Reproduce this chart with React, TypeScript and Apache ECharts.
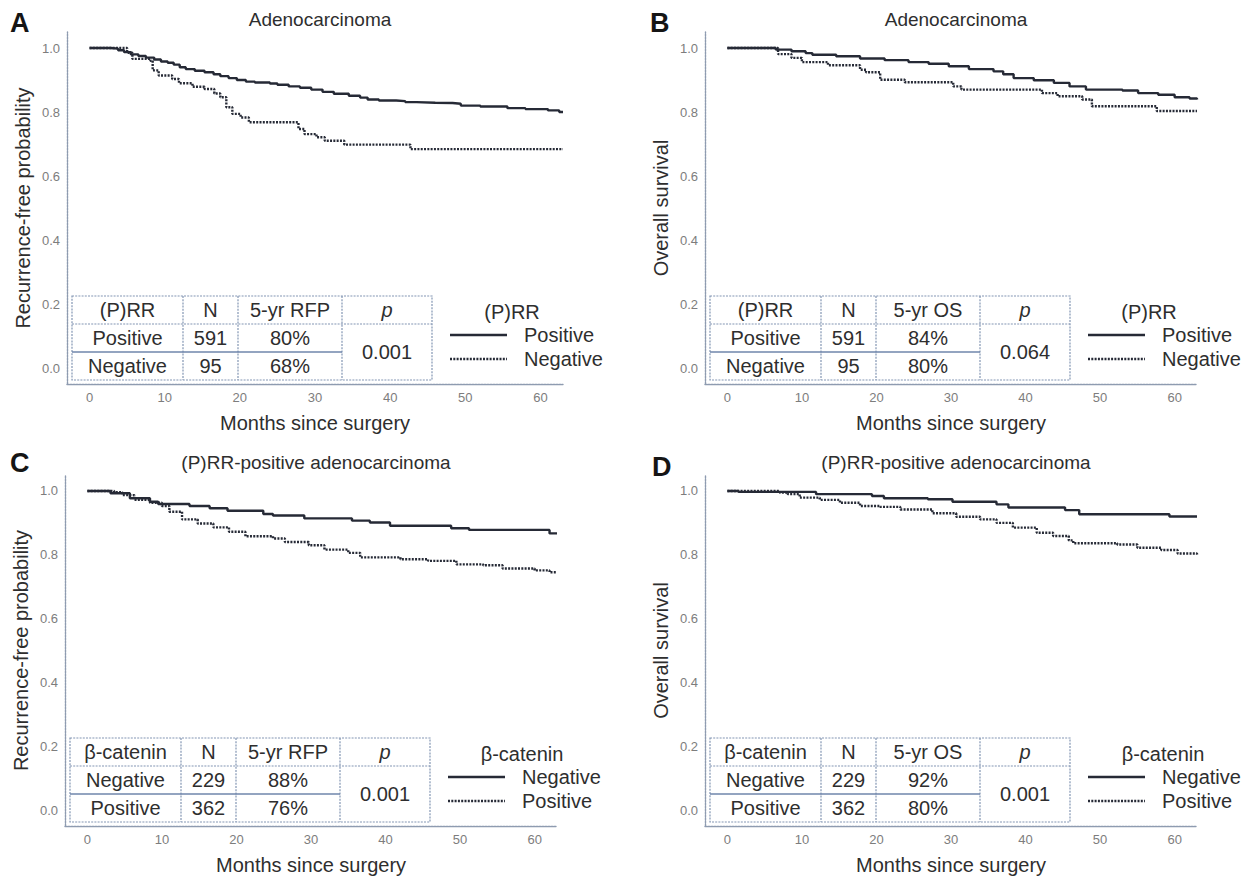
import React, { useEffect, useRef } from "react";
import * as echarts from "echarts";

// ---------- data ----------
const xTicks = [0, 10, 20, 30, 40, 50, 60];
const yTicks = [0, 0.2, 0.4, 0.6, 0.8, 1.0];

const panelLetters = ["A", "B", "C", "D"];
const panelTitles = ["Adenocarcinoma", "Adenocarcinoma", "(P)RR-positive adenocarcinoma", "(P)RR-positive adenocarcinoma"];
const yTitles = ["Recurrence-free probability", "Overall survival", "Recurrence-free probability", "Overall survival"];
const xTitle = "Months since surgery";

// Panel A: RFP by (P)RR
const aPosT = [0, 2.8, 3.8, 4.6, 5.5, 6.5, 7.5, 8.6, 9.5, 10.4, 11.2, 12.0, 12.8, 14.0, 15.3, 16.5, 17.4, 18.5, 19.6, 20.8, 22.0, 24.0, 25.0, 26.5, 28.0, 29.5, 31.0, 32.5, 34.5, 36.0, 37.0, 38.5, 40.8, 42.0, 43.5, 46.0, 48.3, 49.4, 52.0, 55.6, 58.0, 61.0, 62.5, 63];
const aPosS = [1.0, 0.998, 0.993, 0.987, 0.98, 0.975, 0.97, 0.964, 0.958, 0.954, 0.948, 0.94, 0.934, 0.929, 0.924, 0.918, 0.912, 0.906, 0.9, 0.895, 0.892, 0.889, 0.885, 0.88, 0.876, 0.87, 0.863, 0.857, 0.851, 0.845, 0.839, 0.836, 0.834, 0.831, 0.829, 0.828, 0.826, 0.82, 0.817, 0.812, 0.809, 0.805, 0.8, 0.8];
const aNegT = [0, 5.0, 5.7, 8.1, 8.4, 9.2, 11.0, 11.9, 13.7, 15.3, 16.6, 17.4, 18.2, 19.0, 20.1, 21.2, 27.8, 28.6, 30.2, 31.3, 33.9, 42.7, 63];
const aNegS = [1.0, 0.985, 0.966, 0.96, 0.93, 0.914, 0.903, 0.89, 0.879, 0.872, 0.858, 0.846, 0.815, 0.794, 0.783, 0.768, 0.747, 0.731, 0.721, 0.71, 0.698, 0.684, 0.684];

// Panel B: OS by (P)RR
const bPosT = [0, 6.5, 8.6, 10.5, 11.4, 14.6, 17.8, 21.1, 24.3, 27.0, 29.7, 32.4, 35.7, 37.0, 38.4, 41.1, 43.8, 45.9, 48.1, 53.0, 55.1, 57.8, 60.0, 62.0, 63];
const bPosS = [1.0, 0.995, 0.99, 0.984, 0.979, 0.974, 0.967, 0.962, 0.956, 0.951, 0.943, 0.934, 0.927, 0.918, 0.906, 0.899, 0.891, 0.88, 0.87, 0.867, 0.859, 0.854, 0.846, 0.842, 0.839];
const bNegT = [0, 6.8, 8.6, 10.0, 13.5, 17.8, 18.6, 20.5, 23.8, 30.3, 31.4, 42.2, 44.3, 47.6, 48.9, 57.6, 63];
const bNegS = [1.0, 0.981, 0.969, 0.956, 0.946, 0.932, 0.924, 0.901, 0.893, 0.88, 0.87, 0.859, 0.849, 0.839, 0.818, 0.803, 0.803];

// Panel C: RFP by beta-catenin
const cNegT = [0, 3.1, 5.7, 8.4, 9.5, 13.7, 16.4, 18.8, 23.6, 24.9, 29.1, 35.5, 37.9, 40.6, 48.8, 51.2, 62.0, 63];
const cNegS = [1.0, 0.993, 0.977, 0.966, 0.959, 0.953, 0.946, 0.938, 0.928, 0.923, 0.914, 0.907, 0.901, 0.891, 0.883, 0.878, 0.867, 0.867];
const cPosT = [0, 3.6, 4.7, 6.3, 8.4, 10.0, 11.0, 12.7, 14.8, 16.9, 19.0, 21.2, 24.9, 26.5, 29.7, 31.8, 35.0, 36.6, 42.0, 45.7, 49.5, 53.1, 55.7, 60.0, 62.0, 63];
const cPosS = [1.0, 0.996, 0.987, 0.972, 0.963, 0.953, 0.935, 0.911, 0.898, 0.886, 0.872, 0.858, 0.851, 0.84, 0.83, 0.816, 0.806, 0.792, 0.786, 0.781, 0.77, 0.767, 0.757, 0.751, 0.745, 0.745];

// Panel D: OS by beta-catenin
const dNegT = [0, 1.5, 11.9, 19.4, 21.0, 26.9, 30.2, 36.1, 37.7, 45.3, 47.2, 59.3, 63];
const dNegS = [1.0, 0.997, 0.99, 0.984, 0.977, 0.974, 0.966, 0.958, 0.948, 0.94, 0.927, 0.92, 0.92];
const dPosT = [0, 7.0, 8.1, 9.7, 12.4, 15.1, 17.8, 20.5, 23.2, 27.5, 30.7, 33.9, 36.1, 38.3, 41.5, 43.7, 45.8, 46.4, 52.3, 55.0, 58.2, 60.4, 63];
const dPosS = [1.0, 0.995, 0.99, 0.979, 0.972, 0.963, 0.953, 0.95, 0.942, 0.93, 0.919, 0.911, 0.9, 0.885, 0.869, 0.859, 0.845, 0.836, 0.832, 0.822, 0.815, 0.804, 0.796];

// tables
const tableHeaders = [
  ["(P)RR", "N", "5-yr RFP", "p"],
  ["(P)RR", "N", "5-yr OS", "p"],
  ["β-catenin", "N", "5-yr RFP", "p"],
  ["β-catenin", "N", "5-yr OS", "p"],
];
const tableGroups = [
  ["Positive", "Negative"],
  ["Positive", "Negative"],
  ["Negative", "Positive"],
  ["Negative", "Positive"],
];
const tableN = [
  ["591", "95"],
  ["591", "95"],
  ["229", "362"],
  ["229", "362"],
];
const tableRate = [
  ["80%", "68%"],
  ["84%", "80%"],
  ["88%", "76%"],
  ["92%", "80%"],
];
const tableP = ["0.001", "0.064", "0.001", "0.001"];
const legendTitles = ["(P)RR", "(P)RR", "β-catenin", "β-catenin"];

// ---------- layout ----------
const grids = [
  { left: 67, top: 32, width: 496, height: 352 },
  { left: 705, top: 32, width: 492, height: 352 },
  { left: 65, top: 475, width: 492, height: 351 },
  { left: 705, top: 475, width: 492, height: 351 },
];
const legendTitleOffset = [445, 444, 457, 458];
const letterPos = [
  [10, 9],
  [650, 9],
  [10, 449],
  [652, 453],
];

const FONT = '"Liberation Sans", Arial, sans-serif';
const TXT = "#2e2e2e";
const CURVE = "#262a36";
const BORDER = "#8396b3";
const DOTS = [2, 1.3];

const zip = (t: number[], s: number[]) => t.map((v, i) => [v, s[i]]);

const curves = [
  [zip(aPosT, aPosS), zip(aNegT, aNegS)],
  [zip(bPosT, bPosS), zip(bNegT, bNegS)],
  [zip(cNegT, cNegS), zip(cPosT, cPosS)],
  [zip(dNegT, dNegS), zip(dPosT, dPosS)],
];

function text(x: number, y: number, t: string, opts: any = {}) {
  return {
    type: "text",
    x,
    y,
    silent: true,
    style: {
      text: t,
      fill: opts.fill || TXT,
      font: opts.font || `20px ${FONT}`,
      textAlign: opts.align || "center",
      align: opts.align || "center",
      textVerticalAlign: "middle",
      verticalAlign: "middle",
    },
  };
}

function line(x1: number, y1: number, x2: number, y2: number, stroke: string, lw: number, dash: any) {
  return {
    type: "line",
    silent: true,
    shape: { x1, y1, x2, y2 },
    style: { stroke, lineWidth: lw, lineDash: dash },
  };
}

function panelGraphics(i: number) {
  const g = grids[i];
  const L = g.left;
  const B = g.top + g.height;
  const cx = [5, 116, 171, 275, 365].map((v) => L + v);
  const ry = [-88, -60, -32, -4].map((v) => B + v);
  const els: any[] = [];
  // panel letter
  els.push({
    type: "text",
    x: letterPos[i][0],
    y: letterPos[i][1],
    silent: true,
    style: { text: panelLetters[i], fill: "#151515", font: `bold 27px ${FONT}` },
  });
  // table frame
  const dot = [2, 1.2];
  els.push({
    type: "rect",
    silent: true,
    shape: { x: cx[0], y: ry[0], width: cx[4] - cx[0], height: ry[3] - ry[0] },
    style: { fill: "none", stroke: BORDER, lineWidth: 1.2, lineDash: dot },
  });
  for (let k = 1; k < 4; k++) els.push(line(cx[k], ry[0], cx[k], ry[3], BORDER, 1.2, dot));
  els.push(line(cx[0], ry[1], cx[4], ry[1], BORDER, 1.2, dot));
  els.push(line(cx[0], ry[2], cx[3], ry[2], "#6f86ab", 1.4, null));
  // header
  const hdr = tableHeaders[i];
  const mids = [0, 1, 2, 3].map((k) => (cx[k] + cx[k + 1]) / 2);
  for (let k = 0; k < 4; k++) {
    els.push(text(mids[k], (ry[0] + ry[1]) / 2, hdr[k], k === 3 ? { font: `italic 20px ${FONT}` } : {}));
  }
  for (let r = 0; r < 2; r++) {
    const yc = (ry[r + 1] + ry[r + 2]) / 2;
    els.push(text(mids[0], yc, tableGroups[i][r]));
    els.push(text(mids[1], yc, tableN[i][r]));
    els.push(text(mids[2], yc, tableRate[i][r]));
  }
  els.push(text(mids[3], (ry[1] + ry[3]) / 2, tableP[i]));
  // legend
  els.push(text(L + legendTitleOffset[i], B - 72, legendTitles[i]));
  els.push(line(L + 383, B - 49, L + 440, B - 49, CURVE, 2.4, null));
  els.push(line(L + 383, B - 25, L + 440, B - 25, CURVE, 2.4, DOTS));
  els.push(text(L + 457, B - 49, tableGroups[i][0], { align: "left" }));
  els.push(text(L + 457, B - 25, tableGroups[i][1], { align: "left" }));
  return els;
}

function buildOption() {
  const axisLineStyle = { color: "#8e9bb0", width: 1.4, type: [2, 1] };
  const xAxis = grids.map((_, i) => ({
    gridIndex: i,
    type: "value",
    min: -3,
    max: 63,
    axisLine: { show: true, onZero: false, lineStyle: axisLineStyle },
    axisTick: { show: false },
    splitLine: { show: false },
    axisLabel: { customValues: xTicks, color: "#7d7d7d", fontSize: 13, margin: 7, fontFamily: FONT },
    name: xTitle,
    nameLocation: "middle",
    nameGap: 29,
    nameTextStyle: { fontSize: 20, color: TXT, fontFamily: FONT },
  }));
  const yAxis = grids.map((_, i) => ({
    gridIndex: i,
    type: "value",
    min: -0.05,
    max: 1.05,
    axisLine: { show: true, onZero: false, lineStyle: axisLineStyle },
    axisTick: { show: false },
    splitLine: { show: false },
    axisLabel: {
      customValues: yTicks,
      color: "#7d7d7d",
      fontSize: 13,
      margin: 7,
      fontFamily: FONT,
      formatter: (v: number) => v.toFixed(1),
    },
    name: yTitles[i],
    nameLocation: "middle",
    nameGap: 34,
    nameTextStyle: { fontSize: 20, color: TXT, fontFamily: FONT },
  }));
  const series: any[] = [];
  curves.forEach((pair, i) => {
    pair.forEach((data, j) => {
      series.push({
        type: "line",
        xAxisIndex: i,
        yAxisIndex: i,
        step: "end",
        symbol: "none",
        data,
        lineStyle: { color: CURVE, width: 2.4, type: j === 0 ? "solid" : DOTS },
        z: 3,
      });
    });
  });
  const title = grids.map((g, i) => ({
    text: panelTitles[i],
    left: g.left + g.width / 2,
    top: g.top - 27,
    textAlign: "center",
    textStyle: { fontSize: 19, fontWeight: "normal", color: TXT, fontFamily: FONT },
  }));
  const graphic: any[] = [];
  grids.forEach((_, i) => graphic.push(...panelGraphics(i)));
  return {
    animation: false,
    backgroundColor: "#ffffff",
    title,
    grid: grids,
    xAxis,
    yAxis,
    series,
    graphic,
  };
}

export default function App() {
  const ref = useRef<HTMLDivElement>(null);
  useEffect(() => {
    if (!ref.current) return;
    const chart = echarts.init(ref.current, undefined, { renderer: "svg" });
    chart.setOption(buildOption() as any);
    return () => chart.dispose();
  }, []);
  return (
    <div
      ref={ref}
      style={{ position: "absolute", left: 0, top: 0, width: 1249, height: 880, background: "#fff" }}
    />
  );
}
